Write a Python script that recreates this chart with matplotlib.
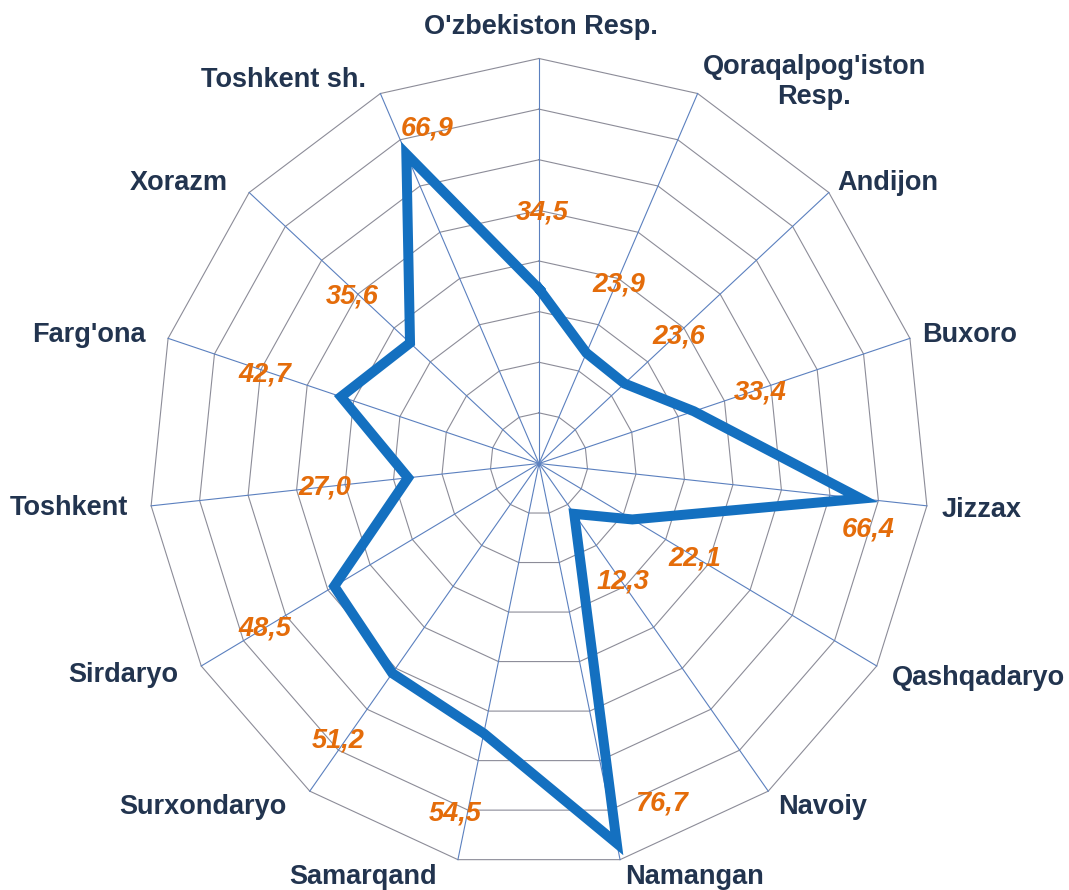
import matplotlib
matplotlib.use('Agg')
import matplotlib.pyplot as plt
import numpy as np

regions = ["O'zbekiston Resp.", "Qoraqalpog'iston\nResp.", "Andijon", "Buxoro", "Jizzax",
           "Qashqadaryo", "Navoiy", "Namangan", "Samarqand", "Surxondaryo",
           "Sirdaryo", "Toshkent", "Farg'ona", "Xorazm", "Toshkent sh."]
values = [34.5, 23.9, 23.6, 33.4, 66.4, 22.1, 12.3, 76.7, 54.5, 51.2,
          48.5, 27.0, 42.7, 35.6, 66.9]
value_labels = ["34,5", "23,9", "23,6", "33,4", "66,4", "22,1", "12,3", "76,7",
                "54,5", "51,2", "48,5", "27,0", "42,7", "35,6", "66,9"]
ring_levels = [10, 20, 30, 40, 50, 60, 70, 80]

# label placement (pixels, relative to the outer vertex / data point)
cat_offsets = [(2, 32), (5, 12), (9, 10), (12, 3), (15, -4), (15, -12), (10, -16), (5, -17),
               (-21, -17), (-23, -16), (-23, -9), (-23, -2), (-22, 3), (-21, 10), (-14, 14)]
cat_ha = ['center'] + ['left'] * 7 + ['right'] * 7
val_offsets = [(3, 76), (32, 68), (54, 47), (66, 19), (7, -31), (63, -39), (49, -68), (45, 40),
               (-29, -80), (-54, -67), (-69, -42), (-83, -10), (-76, 22), (-58, 46), (21, 26)]

n = len(regions)
angles = np.deg2rad(np.arange(n) * 360.0 / n)
closed = np.append(angles, angles[0])

fig = plt.figure(figsize=(10.69, 8.90), dpi=100)
ax = fig.add_axes([149 / 1069, 21.5 / 890, 780 / 1069, 810 / 890], projection='polar')
ax.set_theta_zero_location('N')
ax.set_theta_direction(-1)
ax.set_ylim(0, 80)
ax.set_aspect('auto')
ax.grid(False)
ax.spines['polar'].set_visible(False)
ax.set_xticks([])
ax.set_yticks([])
ax.patch.set_alpha(0)

# polygon grid
for r in ring_levels:
    ax.plot(closed, [r] * (n + 1), color='#8c8c98', linewidth=0.8, clip_on=False, zorder=1)
for a in angles:
    ax.plot([a, a], [0, 80], color='#5b80bf', linewidth=0.8, clip_on=False, zorder=1)

ax.plot(closed, np.append(values, values[0]), color='#1470c0', linewidth=7.2,
        solid_joinstyle='miter', clip_on=False, zorder=3)

for a, name, (dx, dy), ha in zip(angles, regions, cat_offsets, cat_ha):
    ax.annotate(name, xy=(a, 80), xytext=(dx, dy), textcoords='offset pixels',
                ha=ha, va='center', multialignment='center',
                fontsize=19.5, fontweight='bold', family='Liberation Sans',
                color='#22344f', annotation_clip=False)

for a, v, lab, (dx, dy) in zip(angles, values, value_labels, val_offsets):
    ax.annotate(lab, xy=(a, v), xytext=(dx, dy), textcoords='offset pixels',
                ha='center', va='center', fontsize=19.5, fontweight='bold',
                fontstyle='italic', family='Liberation Sans', color='#e46c0a',
                annotation_clip=False, zorder=4)

fig.savefig('out.png', dpi=100, facecolor='white')
